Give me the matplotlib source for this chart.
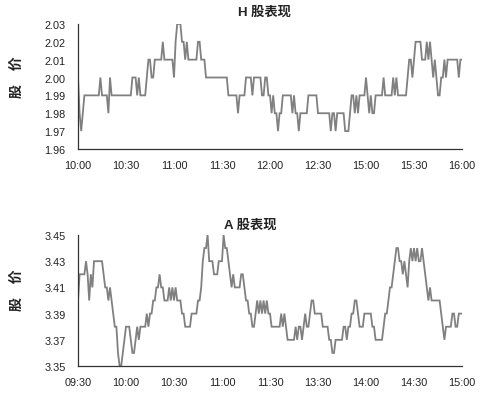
import numpy as np
import matplotlib
matplotlib.use('Agg')
import matplotlib.pyplot as plt

plt.rcParams['font.family'] = ['Liberation Sans', 'Noto Sans CJK SC', 'DejaVu Sans']

# H shares, one price per minute of trading (10:00-12:30, 14:30-16:00)
h_prices = [
  2.00,1.98,1.97,1.98,1.99,1.99,1.99,1.99,1.99,1.99,
  1.99,1.99,1.99,1.99,2.00,1.99,1.99,1.99,1.99,1.98,
  2.00,1.99,1.99,1.99,1.99,1.99,1.99,1.99,1.99,1.99,
  1.99,1.99,1.99,1.99,2.00,2.00,2.00,1.99,2.00,1.99,
  1.99,1.99,1.99,2.00,2.01,2.01,2.00,2.00,2.01,2.01,
  2.01,2.01,2.01,2.02,2.01,2.01,2.01,2.01,2.01,2.01,
  2.00,2.02,2.03,2.03,2.03,2.02,2.02,2.01,2.02,2.01,
  2.01,2.01,2.01,2.01,2.01,2.02,2.02,2.01,2.01,2.01,
  2.00,2.00,2.00,2.00,2.00,2.00,2.00,2.00,2.00,2.00,
  2.00,2.00,2.00,2.00,1.99,1.99,1.99,1.99,1.99,1.99,
  1.98,1.99,1.99,1.99,1.99,2.00,2.00,2.00,2.00,1.99,
  2.00,2.00,2.00,2.00,2.00,1.99,1.99,2.00,2.00,1.99,
  1.99,1.98,1.99,1.98,1.98,1.97,1.98,1.98,1.99,1.99,
  1.99,1.99,1.99,1.99,1.98,1.99,1.98,1.98,1.97,1.98,
  1.98,1.98,1.98,1.98,1.99,1.99,1.99,1.99,1.99,1.99,
  1.98,1.98,1.98,1.98,1.98,1.98,1.98,1.98,1.97,1.98,
  1.98,1.97,1.98,1.98,1.98,1.98,1.98,1.97,1.97,1.97,
  1.98,1.99,1.99,1.98,1.99,1.98,1.99,1.99,1.99,1.99,
  2.00,1.99,1.98,1.99,1.98,1.98,1.99,1.99,1.99,1.99,
  1.99,2.00,1.99,1.99,1.99,1.99,1.99,2.00,1.99,2.00,
  1.99,1.99,1.99,1.99,1.99,1.99,2.00,2.01,2.01,2.00,
  2.01,2.02,2.02,2.02,2.02,2.01,2.01,2.01,2.02,2.01,
  2.02,2.01,2.00,2.01,2.00,1.99,1.99,2.00,2.00,2.01,
  2.00,2.01,2.01,2.01,2.01,2.01,2.01,2.01,2.00,2.01,
  2.01,
]
h_labels = ['10:00', '10:30', '11:00', '11:30', '12:00', '12:30', '15:00', '15:30', '16:00']
h_yticks = [1.96, 1.97, 1.98, 1.99, 2.00, 2.01, 2.02, 2.03]

# A shares, one price per minute of trading (09:30-11:30, 13:00-15:00)
a_prices = [
  3.40,3.42,3.42,3.42,3.42,3.43,3.42,3.40,3.42,3.41,
  3.43,3.43,3.43,3.43,3.43,3.43,3.42,3.41,3.41,3.40,
  3.41,3.40,3.39,3.38,3.38,3.36,3.35,3.35,3.36,3.37,
  3.38,3.38,3.38,3.37,3.36,3.36,3.37,3.38,3.37,3.38,
  3.38,3.38,3.38,3.39,3.38,3.39,3.39,3.40,3.40,3.41,
  3.41,3.42,3.41,3.41,3.40,3.40,3.40,3.41,3.40,3.41,
  3.40,3.41,3.40,3.40,3.40,3.39,3.39,3.38,3.38,3.38,
  3.38,3.39,3.39,3.39,3.39,3.40,3.40,3.41,3.43,3.44,
  3.44,3.45,3.43,3.43,3.43,3.42,3.42,3.42,3.43,3.43,
  3.43,3.45,3.44,3.44,3.43,3.42,3.41,3.42,3.41,3.41,
  3.41,3.41,3.42,3.42,3.41,3.40,3.40,3.39,3.39,3.38,
  3.38,3.39,3.40,3.39,3.40,3.39,3.40,3.39,3.40,3.39,
  3.39,3.38,3.38,3.38,3.38,3.38,3.38,3.39,3.38,3.39,
  3.38,3.37,3.37,3.37,3.37,3.37,3.38,3.37,3.38,3.38,
  3.37,3.38,3.39,3.38,3.38,3.39,3.40,3.40,3.39,3.39,
  3.39,3.39,3.39,3.38,3.38,3.38,3.38,3.37,3.37,3.36,
  3.36,3.37,3.37,3.37,3.37,3.37,3.38,3.38,3.37,3.38,
  3.38,3.39,3.39,3.40,3.40,3.39,3.38,3.38,3.38,3.39,
  3.39,3.39,3.39,3.39,3.38,3.38,3.37,3.37,3.37,3.37,
  3.37,3.38,3.39,3.39,3.40,3.41,3.41,3.42,3.43,3.44,
  3.44,3.43,3.43,3.42,3.43,3.42,3.41,3.43,3.44,3.43,
  3.44,3.43,3.44,3.43,3.43,3.44,3.43,3.42,3.41,3.40,
  3.41,3.40,3.40,3.40,3.40,3.40,3.40,3.39,3.38,3.37,
  3.38,3.38,3.38,3.38,3.39,3.39,3.38,3.38,3.39,3.39,
  3.39,
]
a_labels = ['09:30', '10:00', '10:30', '11:00', '11:30', '13:30', '14:00', '14:30', '15:00']
a_yticks = [3.35, 3.37, 3.39, 3.41, 3.43, 3.45]

LINE = '#808080'
TXT = '#222222'


def draw(ax, prices, labels, yticks, fmt):
  minutes = np.arange(len(prices))
  ax.plot(minutes, prices, color=LINE, lw=1.3, solid_joinstyle='miter')
  ax.set_xlim(0, len(prices) - 1)
  ax.set_ylim(yticks[0], yticks[-1])
  ax.set_xticks(np.linspace(0, len(prices) - 1, len(labels)))
  ax.set_xticklabels(labels)
  ax.set_yticks(yticks)
  ax.set_yticklabels([fmt % v for v in yticks])
  for s in ['top', 'right']:
    ax.spines[s].set_visible(False)
  for s in ['left', 'bottom']:
    ax.spines[s].set_color('#333333')
    ax.spines[s].set_linewidth(0.9)
  ax.tick_params(length=0, labelsize=7.8, colors=TXT)
  ax.tick_params(axis='y', pad=9)
  ax.tick_params(axis='x', pad=8)


fig = plt.figure(figsize=(5.0, 4.02), dpi=100)
ax1 = fig.add_axes([0.156, 0.627, 0.768, 0.311])
ax2 = fig.add_axes([0.156, 0.087, 0.768, 0.326])

draw(ax1, h_prices, h_labels, h_yticks, '%.2f')
draw(ax2, a_prices, a_labels, a_yticks, '%.2f')

fig.text(0.528, 0.97, 'H 股表现', ha='center', va='center', fontsize=9.5,
         fontweight='bold', color=TXT)
fig.text(0.50, 0.438, 'A 股表现', ha='center', va='center', fontsize=9.5,
         fontweight='bold', color=TXT)
fig.text(0.034, 0.807, '股\u3000价', ha='center', va='center', rotation=90,
         fontsize=10, fontweight='bold', color=TXT)
fig.text(0.034, 0.279, '股\u3000价', ha='center', va='center', rotation=90,
         fontsize=10, fontweight='bold', color=TXT)

fig.savefig('out.png', dpi=100, facecolor='white')
